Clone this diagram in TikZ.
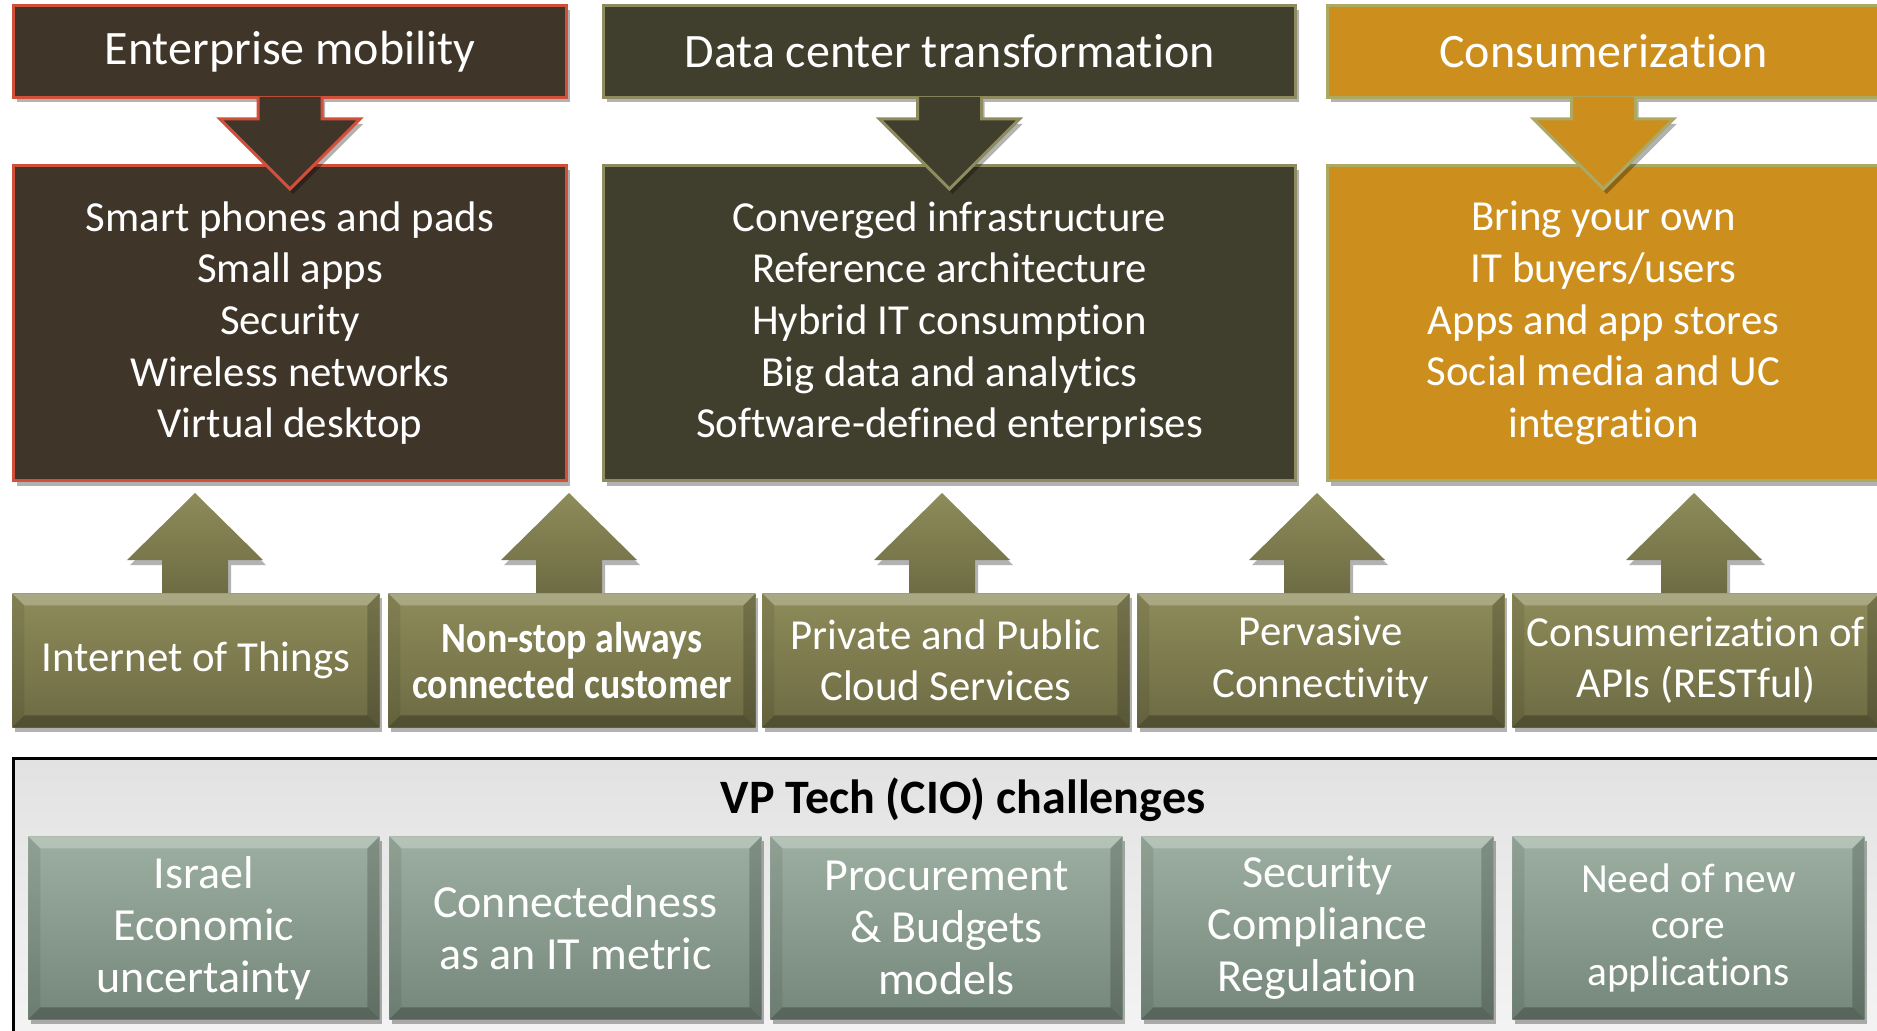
\documentclass[tikz,border=0pt]{standalone}
\usepackage{fontspec}
\setmainfont{Carlito}[Ligatures={NoCommon,NoContextual},RawFeature={-liga;-clig}]
\newfontfamily\condfont[FakeStretch=0.88,Ligatures={NoCommon,NoContextual},RawFeature={-liga;-clig}]{Carlito}
\usetikzlibrary{calc,shadows}
\definecolor{brownbox}{HTML}{3F3529}
\definecolor{redline}{HTML}{D0503A}
\definecolor{olivedark}{HTML}{403F2E}
\definecolor{oliveline}{HTML}{8E8C5E}
\definecolor{goldbox}{HTML}{CC8F1E}
\definecolor{goldline}{HTML}{ADA862}
\definecolor{olivetop}{HTML}{8E8C5A}
\definecolor{olivebot}{HTML}{6C6A42}
\definecolor{sagetop}{HTML}{9CAFA1}
\definecolor{sagebot}{HTML}{75877A}
\definecolor{paneltop}{HTML}{E2E2E2}
\definecolor{panelbot}{HTML}{F4F4F4}
\begin{document}
\begin{tikzpicture}[x=0.5pt,y=-0.5pt,
  shd/.style={drop shadow={shadow xshift=1.5pt,shadow yshift=-2.5pt,opacity=0.3,fill=black}},
  box/.style={anchor=north west, inner sep=0pt, align=center, text=white, shd},
  bevel/.style={path picture={
    \fill[white,opacity=0.25] (path picture bounding box.north west) -- (path picture bounding box.north east)
      -- ([shift={(-6pt,-6pt)}]path picture bounding box.north east) -- ([shift={(6pt,-6pt)}]path picture bounding box.north west) -- cycle;
    \fill[black,opacity=0.25] (path picture bounding box.south west) -- (path picture bounding box.south east)
      -- ([shift={(-6pt,6pt)}]path picture bounding box.south east) -- ([shift={(6pt,6pt)}]path picture bounding box.south west) -- cycle;
    \fill[black,opacity=0.08] (path picture bounding box.north west) -- ([shift={(6pt,-6pt)}]path picture bounding box.north west)
      -- ([shift={(6pt,6pt)}]path picture bounding box.south west) -- (path picture bounding box.south west) -- cycle;
    \fill[black,opacity=0.18] (path picture bounding box.north east) -- ([shift={(-6pt,-6pt)}]path picture bounding box.north east)
      -- ([shift={(-6pt,6pt)}]path picture bounding box.south east) -- (path picture bounding box.south east) -- cycle;
  }},
  hdr/.style={box, minimum height=46pt, line width=1.5pt, font=\fontsize{24}{29}\selectfont},
  cnt/.style={box, minimum height=157.5pt, line width=1.5pt, font=\fontsize{21.4}{25.8}\selectfont},
  mid/.style={box, minimum width=183.5pt, minimum height=67pt, top color=olivetop, bottom color=olivebot, bevel, font=\fontsize{21.4}{25.8}\selectfont},
  chl/.style={box, minimum height=91.5pt, top color=sagetop, bottom color=sagebot, bevel, font=\fontsize{23}{26}\selectfont},
  darr/.style={line width=1.5pt, line join=miter, shd},
  uarr/.style={top color=olivetop, bottom color=olivebot, shd},
]
\path[use as bounding box] (0,0) rectangle (1877,1031);
\clip (0,0) rectangle (1877,1031);

% headers
\node[hdr, draw=redline, fill=brownbox, minimum width=276.5pt] (h1) at (12,4) {Enterprise mobility};
\node[hdr, draw=oliveline, fill=olivedark, minimum width=346pt] (h2) at (602,4) {Data center transformation};
\node[hdr, draw=goldline, fill=goldbox, minimum width=276pt] (h3) at (1326,4) {Consumerization};

% content boxes
\node[cnt, draw=redline, fill=brownbox, minimum width=276.5pt] (c1) at (12,164)
  {Smart phones and pads\\Small apps\\Security\\Wireless networks\\Virtual desktop};
\node[cnt, draw=oliveline, fill=olivedark, minimum width=346pt] (c2) at (602,164)
  {Converged infrastructure\\Reference architecture\\Hybrid IT consumption\\Big data and analytics\\Software-defined enterprises};
\node[cnt, draw=goldline, fill=goldbox, minimum width=276pt] (c3) at (1326,164)
  {Bring your own\\IT buyers/users\\Apps and app stores\\Social media and UC\\integration};

% down arrows
\filldraw[darr, draw=redline, fill=brownbox]
  ($(h1.south)+(-32,-2)$) -- ($(h1.south)+(-32,20)$) -- ($(h1.south)+(-70,20)$) -- ($(h1.south)+(0,90)$)
  -- ($(h1.south)+(70,20)$) -- ($(h1.south)+(32,20)$) -- ($(h1.south)+(32,-2)$);
\filldraw[darr, draw=oliveline, fill=olivedark]
  ($(h2.south)+(-32,-2)$) -- ($(h2.south)+(-32,20)$) -- ($(h2.south)+(-70,20)$) -- ($(h2.south)+(0,90)$)
  -- ($(h2.south)+(70,20)$) -- ($(h2.south)+(32,20)$) -- ($(h2.south)+(32,-2)$);
\filldraw[darr, draw=goldline, fill=goldbox]
  ($(h3.south)+(-32,-2)$) -- ($(h3.south)+(-32,20)$) -- ($(h3.south)+(-70,20)$) -- ($(h3.south)+(0,90)$)
  -- ($(h3.south)+(70,20)$) -- ($(h3.south)+(32,20)$) -- ($(h3.south)+(32,-2)$);

% up arrows (bases at the middle-row boxes)
\coordinate (a1) at (195,593);
\coordinate (a2) at (569,593);
\coordinate (a3) at (942,593);
\coordinate (a4) at (1317,593);
\coordinate (a5) at (1694,593);
\foreach \a in {a1,a2,a3,a4,a5}{
  \path[uarr] ($(\a)+(-33,4)$) -- ($(\a)+(-33,-33)$) -- ($(\a)+(-68,-33)$) -- ($(\a)+(0,-100)$)
    -- ($(\a)+(68,-33)$) -- ($(\a)+(33,-33)$) -- ($(\a)+(33,4)$) -- cycle;
}
\node[mid] (m1) at (12,593) {Internet of Things};
\node[mid, font=\condfont\bfseries\fontsize{21.5}{23.3}\selectfont] (m2) at (388,593) {Non-stop always\\connected customer};
\node[mid] (m3) at (762,593) {Private and Public\\Cloud Services};
\node[mid] (m4) at (1137,593) {Pervasive\\Connectivity};
\node[mid] (m5) at (1512,593) {Consumerization of\\APIs (RESTful)};

% challenges panel
\node[anchor=north west, inner sep=0pt, draw=black, line width=1.25pt, top color=paneltop, bottom color=panelbot,
  minimum width=940pt, minimum height=142pt] (panel) at (12,757) {};
\node[font=\bfseries\fontsize{24}{29}\selectfont, text=black] (title) at (963,800) {VP Tech (CIO) challenges};
\node[chl, minimum width=175.5pt] (b1) at (28,836) {Israel\\Economic\\uncertainty};
\node[chl, minimum width=186pt] (b2) at (389,836) {Connectedness\\as an IT metric};
\node[chl, minimum width=176pt] (b3) at (770,836) {Procurement\\\& Budgets\\models};
\node[chl, minimum width=176pt] (b4) at (1141,836) {Security\\Compliance\\Regulation};
\node[chl, minimum width=176pt, font=\fontsize{20.7}{23.3}\selectfont] (b5) at (1512,836) {Need of new\\core\\applications};
\end{tikzpicture}
\end{document}
